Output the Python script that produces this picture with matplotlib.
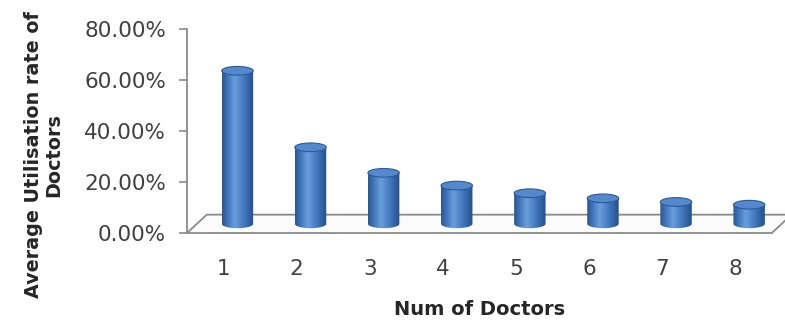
import numpy as np
import matplotlib.pyplot as plt
from matplotlib.patches import Ellipse, Polygon
from matplotlib.path import Path
from matplotlib.colors import LinearSegmentedColormap

doctors = [1, 2, 3, 4, 5, 6, 7, 8]
utilisation = [60.0, 30.0, 20.0, 15.0, 12.0, 10.0, 8.57, 7.5]  # percent
y_ticks = [0, 20, 40, 60, 80]

# 3D look: floor depth and cylinder size in data units
DEPTH_X = 0.27
DEPTH_Y = 7.2
BAR_OFFSET_X = 0.19
BAR_W = 0.43
CAP_H = 3.4

body_cmap = LinearSegmentedColormap.from_list(
    "cyl", ["#2a5694", "#4479bd", "#6a9fdc", "#4d83c8", "#3668ab", "#24508c"]
)

fig = plt.figure(figsize=(7.85, 3.25), dpi=100)
ax = fig.add_axes([0.2382, 0.283, 0.745, 0.628])
ax.set_xlim(0.5, 8.5)
ax.set_ylim(0, 80)

# floor of the 3D plot
x0, x1 = ax.get_xlim()
floor = Polygon(
    [(x0, 0), (x1, 0), (x1 + DEPTH_X, DEPTH_Y), (x0 + DEPTH_X, DEPTH_Y)],
    closed=True, facecolor="#fbfbfb", edgecolor="#8a8a8a", lw=1.3,
    clip_on=False, zorder=1,
)
ax.add_patch(floor)

grad = np.linspace(0, 1, 256).reshape(1, -1)
for x, v in zip(doctors, utilisation):
    xc = x + BAR_OFFSET_X
    base = DEPTH_Y * 0.5
    top = base + v
    left, right = xc - BAR_W / 2, xc + BAR_W / 2
    t = np.linspace(np.pi, 2 * np.pi, 40)
    pts = [(xc + BAR_W / 2 * np.cos(a), base + CAP_H / 2 * np.sin(a)) for a in t]
    pts += [(right, top), (left, top), pts[0]]
    clip = Path(pts)
    im = ax.imshow(grad, cmap=body_cmap, extent=[left, right, base - CAP_H, top],
                   aspect="auto", zorder=3, interpolation="bilinear")
    im.set_clip_path(clip, ax.transData)
    ax.add_patch(Ellipse((xc, top), BAR_W, CAP_H, facecolor="#5588cc",
                         edgecolor="#2c5a98", lw=0.8, zorder=4))

ax.set_xlim(x0, x1)
ax.set_ylim(0, 80)

for s in ["top", "right", "bottom"]:
    ax.spines[s].set_visible(False)
ax.spines["left"].set_color("#8a8a8a")
ax.spines["left"].set_linewidth(1.3)

ax.set_yticks(y_ticks)
ax.set_yticklabels([f"{t:.2f}%" for t in y_ticks])
ax.set_xticks(doctors)
ax.set_xticklabels([str(d) for d in doctors])
ax.tick_params(axis="y", length=6, width=1.2, color="#8a8a8a", labelsize=15.5,
               labelcolor="#404040", pad=9)
ax.tick_params(axis="x", length=0, labelsize=15.5, labelcolor="#404040", pad=18.5)

ax.set_xlabel("Num of Doctors", fontsize=14, fontweight="bold", color="#262626",
              labelpad=15)
ax.set_ylabel("Average Utilisation rate of\nDoctors", fontsize=13.8,
              fontweight="bold", color="#262626", linespacing=1.05)
ax.yaxis.set_label_coords(-0.212, 0.382)

fig.savefig("out.png", dpi=100)
